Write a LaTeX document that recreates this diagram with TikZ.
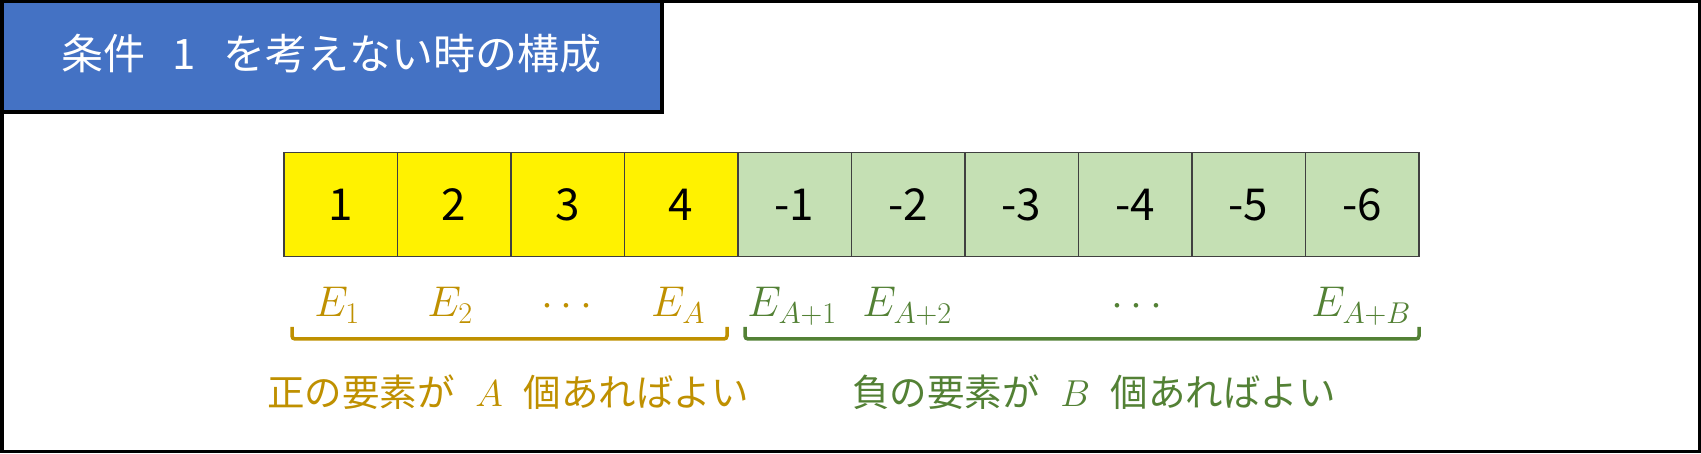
\RequirePackage{fix-cm}
\documentclass[tikz,border=0pt]{standalone}
\usepackage{fontspec}
\setmainfont{Noto Sans CJK JP}
\definecolor{titleblue}{HTML}{4472C4}
\definecolor{posgold}{HTML}{BF9000}
\definecolor{neggreen}{HTML}{538135}
\definecolor{cellgreen}{HTML}{C5E0B4}
\begin{document}
\begin{tikzpicture}[x=1pt, y=-1pt,
  cell/.style={draw=black!75, line width=1.5pt, minimum width=113.5pt, minimum height=104pt,
    inner sep=0pt, anchor=north west, font=\fontsize{44}{44}\selectfont},
  elabel/.style={anchor=base, font=\fontsize{43}{43}\selectfont},
  note/.style={font=\fontsize{37.5}{37.5}\selectfont},
  brace/.style={line width=3.5pt, rounded corners=3pt}]
\useasboundingbox (0,0) rectangle (1701,454);
\draw[line width=3.5pt] (1.75,1.75) rectangle (1699.25,451.5);
\draw[line width=3.5pt, fill=titleblue] (1.75,1.75) rectangle (662,112);
\node[anchor=west, text=white, font=\fontsize{42}{42}\selectfont, inner sep=0pt] (title) at (61,54)
  {条件\hspace{0.65em}1\hspace{0.65em}を考えない時の構成};
\foreach \v [count=\i] in {1,2,3,4}
{
    \node[cell, fill=yellow] (c\i) at ({283+113.5*(\i-1)},152) {\v};
}
\foreach \v [count=\i from 5] in {-1,-2,-3,-4,-5,-6}
{
    \node[cell, fill=cellgreen] (c\i) at ({283+113.5*(\i-1)},152) {\v};
}
\node[elabel, text=posgold] (e1) at (337,317) {$E_1$};
\node[elabel, text=posgold] (e2) at (450,317) {$E_2$};
\node[elabel, text=posgold] (pdots) at (567,317) {$\cdots$};
\node[elabel, text=posgold] (ea) at (678,317) {$E_A$};
\node[elabel, text=neggreen] (ea1) at (792,317) {$E_{A+1}$};
\node[elabel, text=neggreen] (ea2) at (907,317) {$E_{A+2}$};
\node[elabel, text=neggreen] (ndots) at (1137,317) {$\cdots$};
\node[elabel, text=neggreen] (eab) at (1361,317) {$E_{A+B}$};
\draw[brace, posgold] (292,327) -- (292,339) -- (727,339) -- (727,327);
\draw[brace, neggreen] (745,327) -- (745,339) -- (1419,339) -- (1419,327);
\node[note, text=posgold] (pos) at (508,392) {正の要素が\hspace{0.55em}$A$\hspace{0.55em}個あればよい};
\node[note, text=neggreen] (neg) at (1094,392) {負の要素が\hspace{0.55em}$B$\hspace{0.55em}個あればよい};
\end{tikzpicture}
\end{document}
